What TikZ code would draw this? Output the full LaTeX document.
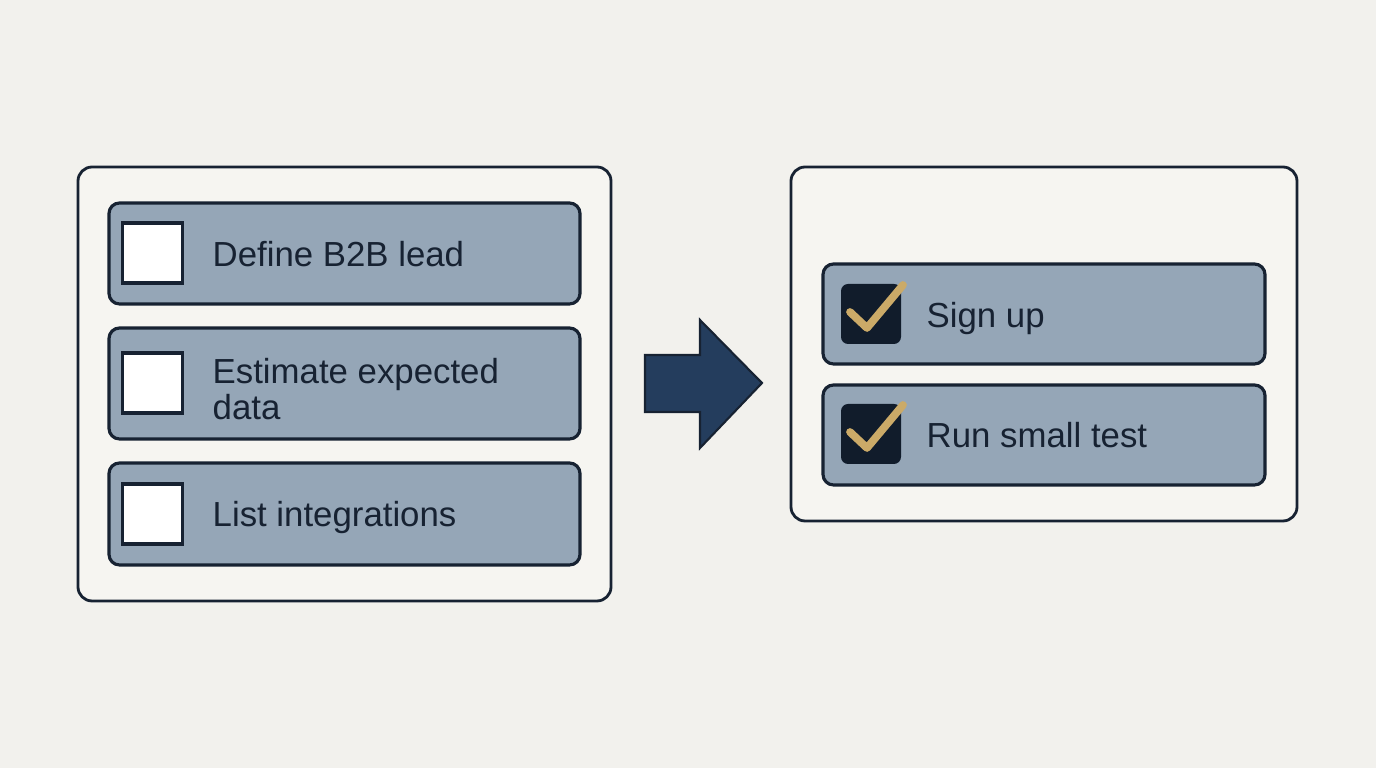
\documentclass[tikz,border=0pt]{standalone}
\usepackage{fontspec}
\setsansfont{Liberation Sans}
\usetikzlibrary{positioning}
\definecolor{bg}{HTML}{F2F1ED}
\definecolor{panelfill}{HTML}{F6F5F1}
\definecolor{ink}{HTML}{172232}
\definecolor{slate}{HTML}{95A6B7}
\definecolor{navy}{HTML}{243D5D}
\definecolor{boxdark}{HTML}{111C2B}
\definecolor{gold}{HTML}{CBAA68}
\tikzset{
  panel/.style={rounded corners=4pt,draw=ink,fill=panelfill,line width=0.8pt},
  item/.style={rounded corners=3pt,draw=ink,fill=slate,line width=0.9pt},
  tickbox/.style={draw=ink,fill=white,line width=0.9pt,minimum size=0.6cm},
  tickdone/.style={rounded corners=2pt,fill=boxdark,minimum size=0.6cm},
  label/.style={font=\sffamily\fontsize{9.9}{9.1}\selectfont,text=ink,anchor=west,align=left,inner sep=0pt},
  tick/.style={draw=gold,line width=2.2pt,line cap=round,line join=round}
}
\begin{document}
\begin{tikzpicture}[x=1cm,y=1cm]
\fill[bg] (0,0) rectangle (13.76,7.68);
\path[use as bounding box] (0,0) rectangle (13.76,7.68);

% to do panel
\node[panel,minimum width=5.33cm,minimum height=4.34cm] (todo) at (3.445,3.84) {};
\node[item,minimum width=4.71cm,minimum height=1.01cm] (def) at (3.445,5.145) {};
\node[item,minimum width=4.71cm,minimum height=1.11cm] (est) at (3.445,3.845) {};
\node[item,minimum width=4.71cm,minimum height=1.02cm] (lst) at (3.445,2.54) {};
\node[tickbox] (defbox) at (1.525,5.15) {};
\node[tickbox] (estbox) at (1.525,3.85) {};
\node[tickbox] (lstbox) at (1.525,2.54) {};
\node[label] (deftxt) at (2.12,5.14) {Define B2B lead};
\node[label] (esttxt) at (2.12,3.79) {Estimate expected\\data};
\node[label] (lsttxt) at (2.12,2.50) {List integrations};

% arrow
\draw[fill=navy,draw=ink,line width=0.6pt,line join=miter] (6.45,4.13) -- (7.00,4.13) -- (7.00,4.48) -- (7.62,3.85) -- (7.00,3.20) -- (7.00,3.56) -- (6.45,3.56) -- cycle;

% done panel
\node[panel,minimum width=5.06cm,minimum height=3.54cm] (done) at (10.44,4.24) {};
\node[item,minimum width=4.42cm,minimum height=1.0cm] (sign) at (10.44,4.54) {};
\node[item,minimum width=4.42cm,minimum height=1.0cm] (run) at (10.44,3.33) {};
\node[tickdone] (signbox) at (8.71,4.54) {};
\node[tickdone] (runbox) at (8.71,3.34) {};
\draw[tick] ([shift={(-0.21,0.02)}]signbox.center) -- ([shift={(-0.04,-0.14)}]signbox.center) -- ([shift={(0.32,0.29)}]signbox.center);
\draw[tick] ([shift={(-0.21,0.02)}]runbox.center) -- ([shift={(-0.04,-0.14)}]runbox.center) -- ([shift={(0.32,0.29)}]runbox.center);
\node[label] (signtxt) at (9.26,4.49) {Sign up};
\node[label] (runtxt) at (9.26,3.33) {Run small test};
\end{tikzpicture}
\end{document}
